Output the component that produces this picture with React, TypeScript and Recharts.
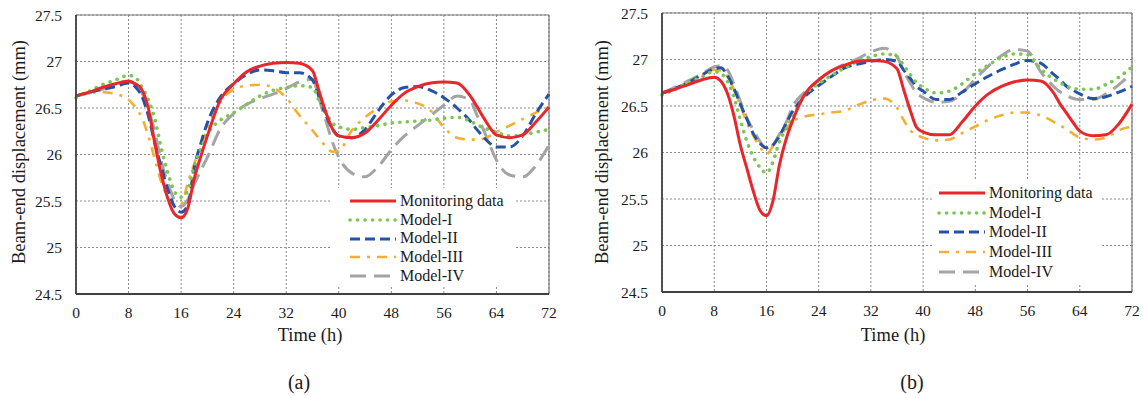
import React from 'react';
import { LineChart, Line, XAxis, YAxis, CartesianGrid, Legend, ReferenceLine } from 'recharts';

const hours = [0, 2, 4, 6, 8, 9, 10, 11, 12, 13, 14, 15, 16, 17, 18, 19, 20, 22, 24, 26, 28, 30, 32, 34, 36, 37, 38, 39, 40, 42, 44, 46, 48, 50, 52, 54, 56, 58, 60, 61, 62, 63, 64, 66, 68, 70, 72];

const xTicks = [0, 8, 16, 24, 32, 40, 48, 56, 64, 72];
const yTicks = [24.5, 25, 25.5, 26, 26.5, 27, 27.5];
const seriesNames = ['Monitoring data', 'Model-I', 'Model-II', 'Model-III', 'Model-IV'];

// Panel (a)
const aMonitoring = [26.63, 26.67, 26.72, 26.76, 26.79, 26.76, 26.70, 26.50, 26.12, 25.78, 25.52, 25.36, 25.32, 25.42, 25.74, 25.98, 26.20, 26.59, 26.76, 26.89, 26.95, 26.98, 26.99, 26.98, 26.90, 26.68, 26.46, 26.28, 26.20, 26.18, 26.23, 26.37, 26.53, 26.66, 26.73, 26.77, 26.78, 26.77, 26.63, 26.52, 26.40, 26.29, 26.21, 26.18, 26.21, 26.35, 26.51];
const aModel1 = [26.61, 26.68, 26.75, 26.80, 26.85, 26.83, 26.73, 26.59, 26.38, 26.06, 25.80, 25.60, 25.54, 25.61, 25.88, 26.06, 26.22, 26.37, 26.45, 26.54, 26.63, 26.69, 26.72, 26.74, 26.72, 26.58, 26.45, 26.34, 26.30, 26.27, 26.29, 26.31, 26.34, 26.35, 26.36, 26.37, 26.39, 26.40, 26.36, 26.32, 26.29, 26.26, 26.24, 26.20, 26.21, 26.24, 26.27];
const aModel2 = [26.63, 26.67, 26.70, 26.73, 26.77, 26.73, 26.63, 26.42, 26.12, 25.86, 25.62, 25.44, 25.38, 25.45, 25.86, 26.12, 26.34, 26.62, 26.76, 26.86, 26.91, 26.90, 26.88, 26.88, 26.80, 26.62, 26.43, 26.28, 26.20, 26.18, 26.27, 26.47, 26.64, 26.72, 26.73, 26.69, 26.61, 26.50, 26.36, 26.27, 26.19, 26.12, 26.08, 26.08, 26.20, 26.44, 26.65];
const aModel3 = [26.63, 26.66, 26.67, 26.65, 26.59, 26.51, 26.40, 26.20, 25.95, 25.70, 25.54, 25.45, 25.46, 25.69, 25.90, 26.10, 26.27, 26.57, 26.70, 26.74, 26.75, 26.72, 26.61, 26.42, 26.26, 26.17, 26.09, 26.03, 26.04, 26.26, 26.40, 26.50, 26.57, 26.58, 26.55, 26.47, 26.29, 26.18, 26.16, 26.16, 26.17, 26.20, 26.24, 26.31, 26.38, 26.45, 26.51];
const aModel4 = [26.63, 26.66, 26.70, 26.74, 26.78, 26.76, 26.67, 26.49, 26.24, 25.92, 25.69, 25.51, 25.44, 25.51, 25.68, 25.83, 25.97, 26.28, 26.44, 26.54, 26.60, 26.65, 26.71, 26.78, 26.81, 26.60, 26.37, 26.14, 25.97, 25.80, 25.76, 25.87, 26.05, 26.20, 26.31, 26.42, 26.53, 26.63, 26.58, 26.43, 26.27, 26.10, 25.94, 25.78, 25.76, 25.88, 26.10];

// Panel (b)
const bMonitoring = [26.64, 26.68, 26.73, 26.78, 26.81, 26.77, 26.64, 26.40, 26.08, 25.83, 25.58, 25.38, 25.32, 25.48, 25.87, 26.14, 26.34, 26.64, 26.78, 26.88, 26.94, 26.98, 26.99, 26.98, 26.90, 26.68, 26.46, 26.27, 26.22, 26.19, 26.19, 26.33, 26.50, 26.63, 26.71, 26.76, 26.78, 26.77, 26.64, 26.52, 26.42, 26.32, 26.23, 26.18, 26.19, 26.31, 26.52];
const bModel1 = [26.62, 26.68, 26.75, 26.81, 26.87, 26.85, 26.77, 26.60, 26.35, 26.12, 25.95, 25.84, 25.78, 25.90, 26.12, 26.25, 26.38, 26.63, 26.74, 26.83, 26.91, 26.98, 27.03, 27.06, 27.03, 26.94, 26.84, 26.75, 26.70, 26.64, 26.66, 26.74, 26.85, 26.94, 27.02, 27.06, 27.05, 26.90, 26.79, 26.75, 26.71, 26.69, 26.68, 26.68, 26.73, 26.81, 26.92];
const bModel2 = [26.64, 26.69, 26.75, 26.83, 26.90, 26.91, 26.83, 26.69, 26.52, 26.36, 26.20, 26.10, 26.05, 26.08, 26.18, 26.31, 26.44, 26.61, 26.72, 26.82, 26.91, 26.95, 26.98, 27.00, 26.98, 26.89, 26.80, 26.71, 26.66, 26.57, 26.57, 26.65, 26.74, 26.82, 26.89, 26.95, 26.99, 26.96, 26.84, 26.78, 26.71, 26.67, 26.63, 26.58, 26.60, 26.65, 26.71];
const bModel3 = [26.64, 26.69, 26.75, 26.82, 26.89, 26.88, 26.82, 26.68, 26.51, 26.32, 26.18, 26.06, 25.98, 26.07, 26.16, 26.26, 26.33, 26.39, 26.41, 26.43, 26.45, 26.51, 26.56, 26.58, 26.48, 26.35, 26.24, 26.19, 26.16, 26.13, 26.14, 26.21, 26.28, 26.35, 26.40, 26.43, 26.43, 26.40, 26.33, 26.29, 26.25, 26.20, 26.16, 26.14, 26.16, 26.24, 26.28];
const bModel4 = [26.64, 26.70, 26.77, 26.84, 26.92, 26.93, 26.89, 26.74, 26.55, 26.37, 26.24, 26.12, 26.04, 26.08, 26.20, 26.32, 26.49, 26.66, 26.78, 26.88, 26.95, 27.01, 27.08, 27.12, 27.03, 26.88, 26.75, 26.64, 26.59, 26.54, 26.55, 26.64, 26.79, 26.93, 27.04, 27.11, 27.09, 26.87, 26.71, 26.65, 26.61, 26.58, 26.57, 26.57, 26.63, 26.73, 26.86];

const buildRows = (s: number[][]) =>
  hours.map((h, i) => ({ h, s0: s[0][i], s1: s[1][i], s2: s[2][i], s3: s[3][i], s4: s[4][i] }));

const dataA = buildRows([aMonitoring, aModel1, aModel2, aModel3, aModel4]);
const dataB = buildRows([bMonitoring, bModel1, bModel2, bModel3, bModel4]);

const FONT = '"Liberation Serif", "Times New Roman", serif';

const styles = [
  { color: '#e8262b', width: 3, dash: undefined as string | undefined, cap: 'butt' },
  { color: '#7cc652', width: 3.6, dash: '0.1 7.4', cap: 'round' },
  { color: '#2452a6', width: 3, dash: '10 5', cap: 'butt' },
  { color: '#f4ae30', width: 2.6, dash: '10 7 3 7', cap: 'butt' },
  { color: '#a4a4a4', width: 3, dash: '16 8', cap: 'butt' },
];

const makeLegend = (rowGap: number, padLeft: number, padTop: number) => () => (
  <div style={{ background: '#fff', width: '100%', height: '100%', paddingTop: padTop, boxSizing: 'border-box' }}>
    {seriesNames.map((name, i) => (
      <div key={name} style={{ display: 'flex', alignItems: 'center', height: rowGap, fontFamily: FONT, fontSize: 16, color: '#1a1a1a', lineHeight: `${rowGap}px` }}>
        <svg width={padLeft + 50} height={10} style={{ flex: 'none' }}>
          <line x1={padLeft} y1={5} x2={padLeft + 46} y2={5} stroke={styles[i].color} strokeWidth={styles[i].width}
            strokeDasharray={styles[i].dash} strokeLinecap={styles[i].cap as any} />
        </svg>
        <span style={{ whiteSpace: 'nowrap' }}>{name}</span>
      </div>
    ))}
  </div>
);

type PanelProps = {
  data: any[];
  left: number;
  width: number;
  top: number;
  legendBox: { left: number; top: number; width: number; height: number };
  legend: () => React.ReactElement;
};

function Panel({ data, left, width, top, legendBox, legend }: PanelProps) {
  return (
    <div style={{ position: 'absolute', left, top: 0 }}>
      <LineChart width={width} height={398} data={data} margin={{ top, right: 11, left: 0, bottom: 398 - top - 279 - 50 }}>
        <CartesianGrid stroke="#8a8a8a" strokeDasharray="2 2" strokeWidth={1} />
        <XAxis dataKey="h" type="number" domain={[0, 72]} ticks={xTicks} height={50} tickLine={false} tickSize={6} tickMargin={7}
          axisLine={{ stroke: '#404040', strokeWidth: 1.8 }} tick={{ fill: '#1a1a1a', fontSize: 15.5, fontFamily: FONT }} />
        <YAxis type="number" domain={[24.5, 27.5]} ticks={yTicks} width={76} tickLine={false} tickSize={6} tickMargin={8}
          axisLine={{ stroke: '#404040', strokeWidth: 1.8 }} tick={{ fill: '#1a1a1a', fontSize: 15.5, fontFamily: FONT }}
          tickFormatter={(v: number) => String(v)} />
        <ReferenceLine y={27.5} stroke="#7a7a7a" strokeWidth={1.2} />
        <ReferenceLine x={72} stroke="#7a7a7a" strokeWidth={1.2} />
        {[4, 3, 2, 1, 0].map((i) => (
          <Line key={i} dataKey={`s${i}`} name={seriesNames[i]} type="monotone" dot={false} isAnimationActive={false}
            stroke={styles[i].color} strokeWidth={styles[i].width} strokeDasharray={styles[i].dash}
            strokeLinecap={styles[i].cap as any} activeDot={false} />
        ))}
        <Legend layout="vertical" align="center" verticalAlign="middle" content={legend}
          wrapperStyle={{ left: legendBox.left, top: legendBox.top, width: legendBox.width, height: legendBox.height, margin: 0 }} />
      </LineChart>
    </div>
  );
}

const titleStyle: React.CSSProperties = { position: 'absolute', fontFamily: FONT, fontSize: 18.5, color: '#1a1a1a', whiteSpace: 'nowrap', transform: 'translate(-50%, -50%)' };

export default function App() {
  return (
    <div style={{ position: 'absolute', left: 0, top: 0, width: 1143, height: 398, background: '#fff', overflow: 'hidden' }}>
      <Panel data={dataA} left={0} width={560} top={15}
        legendBox={{ left: 332, top: 188, width: 183, height: 99 }} legend={makeLegend(18.7, 18, 4)} />
      <Panel data={dataB} left={586} width={557} top={13}
        legendBox={{ left: 347, top: 180, width: 167, height: 104 }} legend={makeLegend(19.7, 6, 3)} />
      <div style={{ ...titleStyle, left: 19, top: 152, transform: 'translate(-50%, -50%) rotate(-90deg)' }}>Beam-end displacement (mm)</div>
      <div style={{ ...titleStyle, left: 602, top: 152, transform: 'translate(-50%, -50%) rotate(-90deg)' }}>Beam-end displacement (mm)</div>
      <div style={{ ...titleStyle, left: 310, top: 335 }}>Time (h)</div>
      <div style={{ ...titleStyle, left: 893, top: 335 }}>Time (h)</div>
      <div style={{ ...titleStyle, left: 299, top: 382, fontSize: 20 }}>(a)</div>
      <div style={{ ...titleStyle, left: 912, top: 382, fontSize: 20 }}>(b)</div>
    </div>
  );
}
